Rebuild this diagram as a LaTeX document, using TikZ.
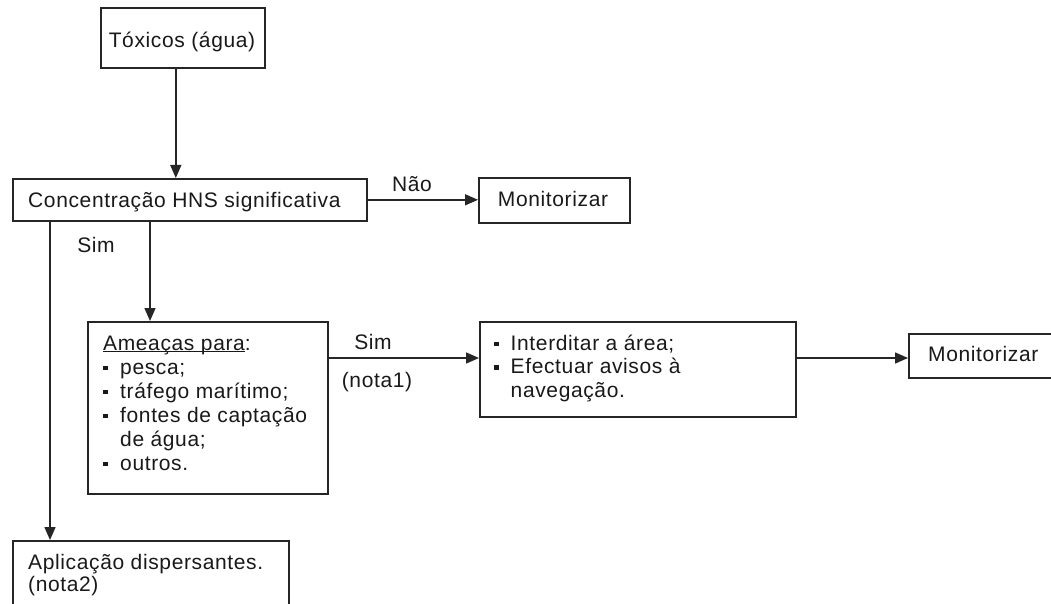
\documentclass[tikz,border=0pt]{standalone}
\usepackage{fontspec}
\setmainfont{Liberation Sans}[LetterSpace=3]
\usetikzlibrary{arrows.meta}
% square bullet followed by the hanging indent of a list item
\newcommand\sqbullet[1]{\makebox[#1][l]{\rule[4pt]{4.5pt}{4.5pt}}}
% thin underline just below the baseline
\newcommand\undl[1]{\setbox0\hbox{#1}\rlap{\rule[-2.2pt]{\wd0}{1.1pt}}\box0}
\begin{document}
\begin{tikzpicture}[x=1pt,y=-1pt,
  box/.style={draw=black!85, line width=1.6pt, inner sep=0pt, anchor=north west},
  txt/.style={inner sep=0pt, font=\fontsize{21}{24}\selectfont, text=black!90},
  arr/.style={draw=black!85, line width=1.5pt, -{Triangle[length=13pt,width=11pt]}},
]
\clip (0,0) rectangle (1051,604);
\fill[white] (0,0) rectangle (1051,604);

% boxes
\node[box, minimum width=164pt, minimum height=60pt] (tox) at (100,7) {};
\node[box, minimum width=354pt, minimum height=42pt] (conc) at (12,178) {};
\node[box, minimum width=151pt, minimum height=45pt] (mon1) at (478,177) {};
\node[box, minimum width=240pt, minimum height=172pt] (ame) at (87,321) {};
\node[box, minimum width=316pt, minimum height=95pt] (int) at (479,321) {};
\node[box, minimum width=160pt, minimum height=44pt] (mon2) at (908,333) {};
\node[box, minimum width=276pt, minimum height=90pt] (apl) at (12,540) {};

% texts
\node[txt, anchor=base] (toxT) at (182,48) {Tóxicos (água)};
\node[txt, anchor=base west] (concT) at (28,207) {Concentração HNS significativa};
\node[txt, anchor=base] (mon1T) at (553,206) {Monitorizar};
\node[txt, anchor=base west] (mon2T) at (928,361) {Monitorizar};
\node[txt, anchor=base west] (ameT) at (103,350) {\vtop{\baselineskip=24pt
  \hbox{\undl{Ameaças para}:}
  \hbox{\sqbullet{17pt}pesca;}
  \hbox{\sqbullet{17pt}tráfego marítimo;}
  \hbox{\sqbullet{17pt}fontes de captação}
  \hbox{\hspace*{17pt}de água;}
  \hbox{\sqbullet{17pt}outros.}}};
\node[txt, anchor=base west] (intT) at (494,350) {\vtop{\baselineskip=23.5pt
  \hbox{\sqbullet{16.5pt}Interditar a área;}
  \hbox{\sqbullet{16.5pt}Efectuar avisos à}
  \hbox{\hspace*{16.5pt}navegação.}}};
\node[txt, anchor=base west] (aplT) at (28,569) {\vtop{\baselineskip=22pt
  \hbox{Aplicação dispersantes.}
  \hbox{(nota2)}}};

% branch labels
\node[txt, anchor=base] (nao) at (412,192) {Não};
\node[txt, anchor=base] (simA) at (96,252) {Sim};
\node[txt, anchor=base] (simB) at (373,349) {Sim};
\node[txt, anchor=base] (nota1) at (377,387) {(nota1)};

% connectors
\coordinate (ameIn) at (150,321);
\coordinate (aplIn) at (50,540);
\coordinate (rowY) at (0,358);
\draw[arr] ([xshift=-7pt]tox.south) -- ([xshift=-7pt]tox.south |- conc.north);
\draw[arr] (conc.east) -- (conc.east -| mon1.west);
\draw[arr] (conc.south -| ameIn) -- (ameIn);
\draw[arr] (conc.south -| aplIn) -- (aplIn);
\draw[arr] (ame.east |- rowY) -- (int.west |- rowY);
\draw[arr] (int.east |- rowY) -- (mon2.west |- rowY);
\end{tikzpicture}
\end{document}
